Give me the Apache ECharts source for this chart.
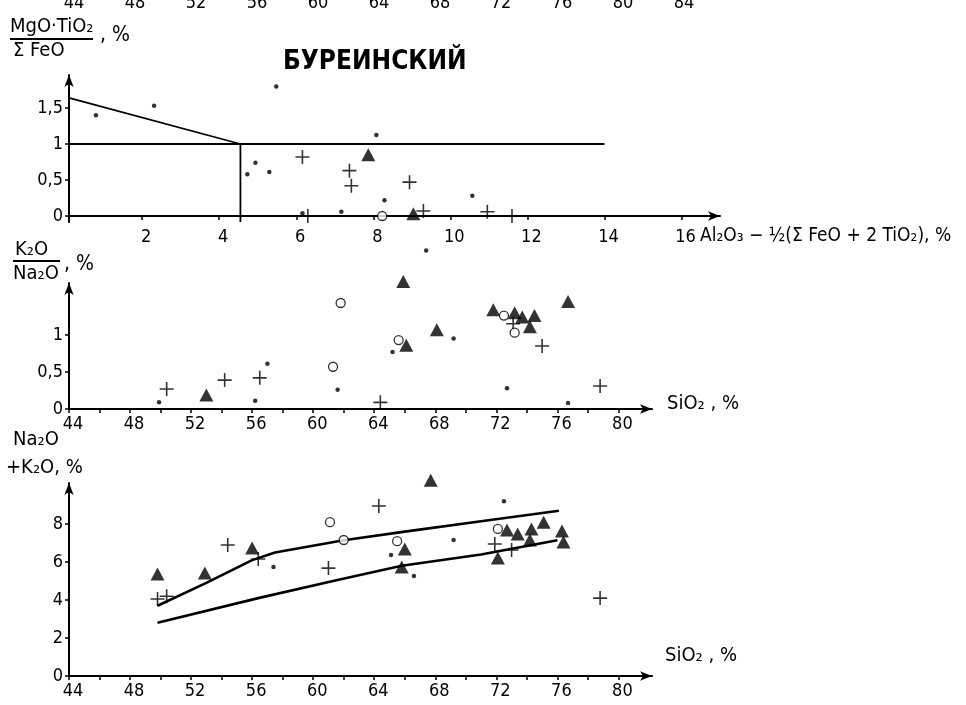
<!DOCTYPE html>
<html>
<head>
<meta charset="utf-8">
<script src="https://cdn.jsdelivr.net/npm/echarts@6/dist/echarts.min.js"></script>
<style>
html,body{margin:0;padding:0;background:#fff;}
#main{width:966px;height:705px;}
</style>
</head>
<body>
<div id="main"></div>
<script>
// верхний график: MgO*TiO2/ΣFeO против Al2O3-1/2(ΣFeO+2TiO2)
var topDots = [[0.8,1.40],[2.31,1.53],[5.48,1.80],[8.08,1.125],[4.73,0.58],[4.94,0.74],[5.3,0.61],[8.29,0.22],[10.57,0.28],[6.16,0.04],[7.17,0.06]];
var topPlus = [[6.16,0.82],[7.38,0.63],[7.43,0.42],[8.94,0.47],[6.3,0.0],[9.3,0.07],[10.96,0.06],[11.6,0.0]];
var topTri = [[7.87,0.85],[9.04,0.03]];
var topCirc = [[8.23,0.0]];
var topSlope = [[0.1,1.64],[4.55,1]];
var topHoriz = [[0.1,1],[14,1]];
var topVert = [[4.55,1],[4.55,-0.083]];
var topXTicks = [2,4,6,8,10,12,14,16];
var topYTicks = [0,0.5,1,1.5];

// средний график: K2O/Na2O против SiO2
var midDots = [[49.9,0.09],[56.2,0.11],[57.0,0.61],[61.6,0.26],[65.2,0.77],[69.2,0.95],[67.4,2.14],[72.7,0.28],[76.7,0.08]];
var midPlus = [[50.4,0.27],[54.2,0.39],[56.5,0.42],[64.4,0.09],[73.1,1.15],[75.0,0.85],[78.8,0.31]];
var midTri = [[53.0,0.19],[65.9,1.72],[66.1,0.86],[68.1,1.07],[71.8,1.34],[73.2,1.30],[73.7,1.24],[74.5,1.26],[74.2,1.11],[76.7,1.45]];
var midCirc = [[61.3,0.57],[61.8,1.43],[65.6,0.93],[72.5,1.26],[73.2,1.03]];
var midYTicks = [0,0.5,1];

// нижний график: Na2O+K2O против SiO2
var botDots = [[57.4,5.74],[65.1,6.37],[66.6,5.26],[69.2,7.16],[72.5,9.2]];
var botPlus = [[49.8,4.05],[50.4,4.2],[54.4,6.9],[56.4,6.16],[61.0,5.68],[64.3,8.95],[71.9,6.95],[73.0,6.63],[78.8,4.1]];
var botTri = [[49.8,5.37],[52.9,5.42],[56.0,6.74],[66.0,6.68],[65.8,5.74],[67.7,10.3],[72.7,7.68],[73.4,7.47],[74.3,7.74],[74.2,7.16],[75.1,8.1],[76.3,7.63],[76.4,7.05],[72.1,6.21]];
var botCirc = [[61.1,8.1],[62.0,7.16],[65.5,7.1],[72.1,7.74]];
var upperLine = [[49.8,3.7],[53,4.9],[56,6.1],[57.5,6.5],[62,7.15],[66,7.6],[71,8.15],[76.1,8.7]];
var lowerLine = [[49.8,2.8],[56.4,4.1],[61.3,5.0],[65.8,5.8],[71,6.4],[76,7.15]];
var botYTicks = [0,2,4,6,8];

var siLabels = [44,48,52,56,60,64,68,72,76,80];
var siTicks = [44,46,48,50,52,54,56,58,60,62,64,66,68,70,72,74,76,78,80];
var cutLabels = [44,48,52,56,60,64,68,72,76,80,84];

var INK = '#000';
var FONT = '"DejaVu Sans Condensed", "DejaVu Sans", sans-serif';

function comma(v){
	return String(v).replace('.', ',');
}

function xAxisFor(gi, min, max, labels, ticks){
	return {
		type: 'value', gridIndex: gi, min: min, max: max,
		splitLine: {show: false},
		axisLine: {lineStyle: {color: INK, width: 2}, symbol: ['none','arrow'], symbolSize: [7,12]},
		axisTick: {customValues: ticks, length: 4, lineStyle: {color: INK, width: 1.5}},
		axisLabel: {customValues: labels, color: INK, fontSize: 18, fontFamily: FONT, margin: 6, padding: [0,0,0,8], formatter: comma}
	};
}
function yAxisFor(gi, min, max, ticks){
	return {
		type: 'value', gridIndex: gi, min: min, max: max,
		splitLine: {show: false},
		axisLine: {lineStyle: {color: INK, width: 2}, symbol: ['none','arrow'], symbolSize: [7,12]},
		axisTick: {customValues: ticks, length: 4, lineStyle: {color: INK, width: 1.5}},
		axisLabel: {customValues: ticks, color: INK, fontSize: 18, fontFamily: FONT, margin: 6, formatter: comma}
	};
}

var plusPath = 'path://M0,6 L12,6 M6,0 L6,12';

function points(gi, data, kind){
	var s = {type: 'scatter', xAxisIndex: gi, yAxisIndex: gi, data: data, clip: false, silent: true};
	if(kind == 'dot'){
		s.symbol = 'circle'; s.symbolSize = 4.5; s.itemStyle = {color: INK};
	}
	else if(kind == 'plus'){
		s.symbol = plusPath; s.symbolSize = 14;
		s.itemStyle = {color: 'none', borderColor: INK, borderWidth: 1.6};
	}
	else if(kind == 'tri'){
		s.symbol = 'triangle'; s.symbolSize = [14,13]; s.itemStyle = {color: INK};
	}
	else{
		s.symbol = 'circle'; s.symbolSize = 9;
		s.itemStyle = {color: '#fff', borderColor: INK, borderWidth: 1.3};
	}
	return s;
}
function line(gi, data, w){
	return {type: 'line', xAxisIndex: gi, yAxisIndex: gi, data: data, showSymbol: false, symbol: 'none',
		silent: true, lineStyle: {color: INK, width: w}, z: 1};
}

var myChart = echarts.init(document.getElementById('main'));

var txt = function(x, y, t, size, extra){
	var st = {text: t, x: x, y: y, fill: INK, font: (size || 18) + 'px ' + FONT, textVerticalAlign: 'middle'};
	if(extra){ for(var k in extra){ st[k] = extra[k]; } }
	return {type: 'text', style: st, silent: true};
};
var bar = function(x1, y, x2){
	return {type: 'line', shape: {x1: x1, y1: y, x2: x2, y2: y}, style: {stroke: INK, lineWidth: 1.8}, silent: true};
};

var option = {
	backgroundColor: '#fff',
	animation: false,
	grid: [
		{left: 69, top: 75, width: 651, height: 147},
		{left: 69, top: 283, width: 583, height: 126},
		{left: 69, top: 483, width: 583, height: 193},
		{left: 69, top: -23, width: 610, height: 10}
	],
	xAxis: [
		xAxisFor(0, 0.1, 17.0, topXTicks, topXTicks),
		xAxisFor(1, 44, 82.2, siLabels, siTicks),
		xAxisFor(2, 44, 82.2, siLabels, siTicks),
		{type: 'value', gridIndex: 3, min: 44, max: 84, splitLine: {show: false},
		 axisLine: {show: false}, axisTick: {show: false},
		 axisLabel: {customValues: cutLabels, color: INK, fontSize: 18, fontFamily: FONT, margin: 5, padding: [0,0,0,10]}}
	],
	yAxis: [
		yAxisFor(0, -0.083, 1.958, topYTicks),
		yAxisFor(1, 0, 1.70, midYTicks),
		yAxisFor(2, 0, 10.16, botYTicks),
		{type: 'value', gridIndex: 3, show: false}
	],
	series: [
		line(0, topSlope, 1.8),
		line(0, topHoriz, 1.8),
		line(0, topVert, 1.8),
		points(0, topDots, 'dot'),
		points(0, topPlus, 'plus'),
		points(0, topTri, 'tri'),
		points(0, topCirc, 'circ'),
		points(1, midDots, 'dot'),
		points(1, midPlus, 'plus'),
		points(1, midTri, 'tri'),
		points(1, midCirc, 'circ'),
		line(2, upperLine, 2.6),
		line(2, lowerLine, 2.6),
		points(2, botDots, 'dot'),
		points(2, botPlus, 'plus'),
		points(2, botTri, 'tri'),
		points(2, botCirc, 'circ')
	],
	graphic: [
		txt(283, 62, 'БУРЕИНСКИЙ', 26, {font: 'bold 26px ' + FONT}),
		// подпись оси Y верхнего графика
		txt(10, 27, 'MgO·TiO₂', 20),
		bar(10, 39, 93),
		txt(13, 51, 'Σ FeO', 20),
		txt(100, 36, ', %', 21),
		// подпись оси X верхнего графика
		txt(700, 236, 'Al₂O₃ − ½(Σ FeO + 2 TiO₂), %', 19),
		// средний график
		txt(15, 250, 'K₂O', 20),
		bar(13, 261, 60),
		txt(13, 274, 'Na₂O', 20),
		txt(64, 265, ', %', 21),
		txt(667, 404, 'SiO₂ , %', 20),
		// нижний график
		txt(13, 440, 'Na₂O', 20),
		txt(6, 468, '+K₂O, %', 20),
		txt(665, 656, 'SiO₂ , %', 20)
	]
};
myChart.setOption(option);
</script>
</body>
</html>
